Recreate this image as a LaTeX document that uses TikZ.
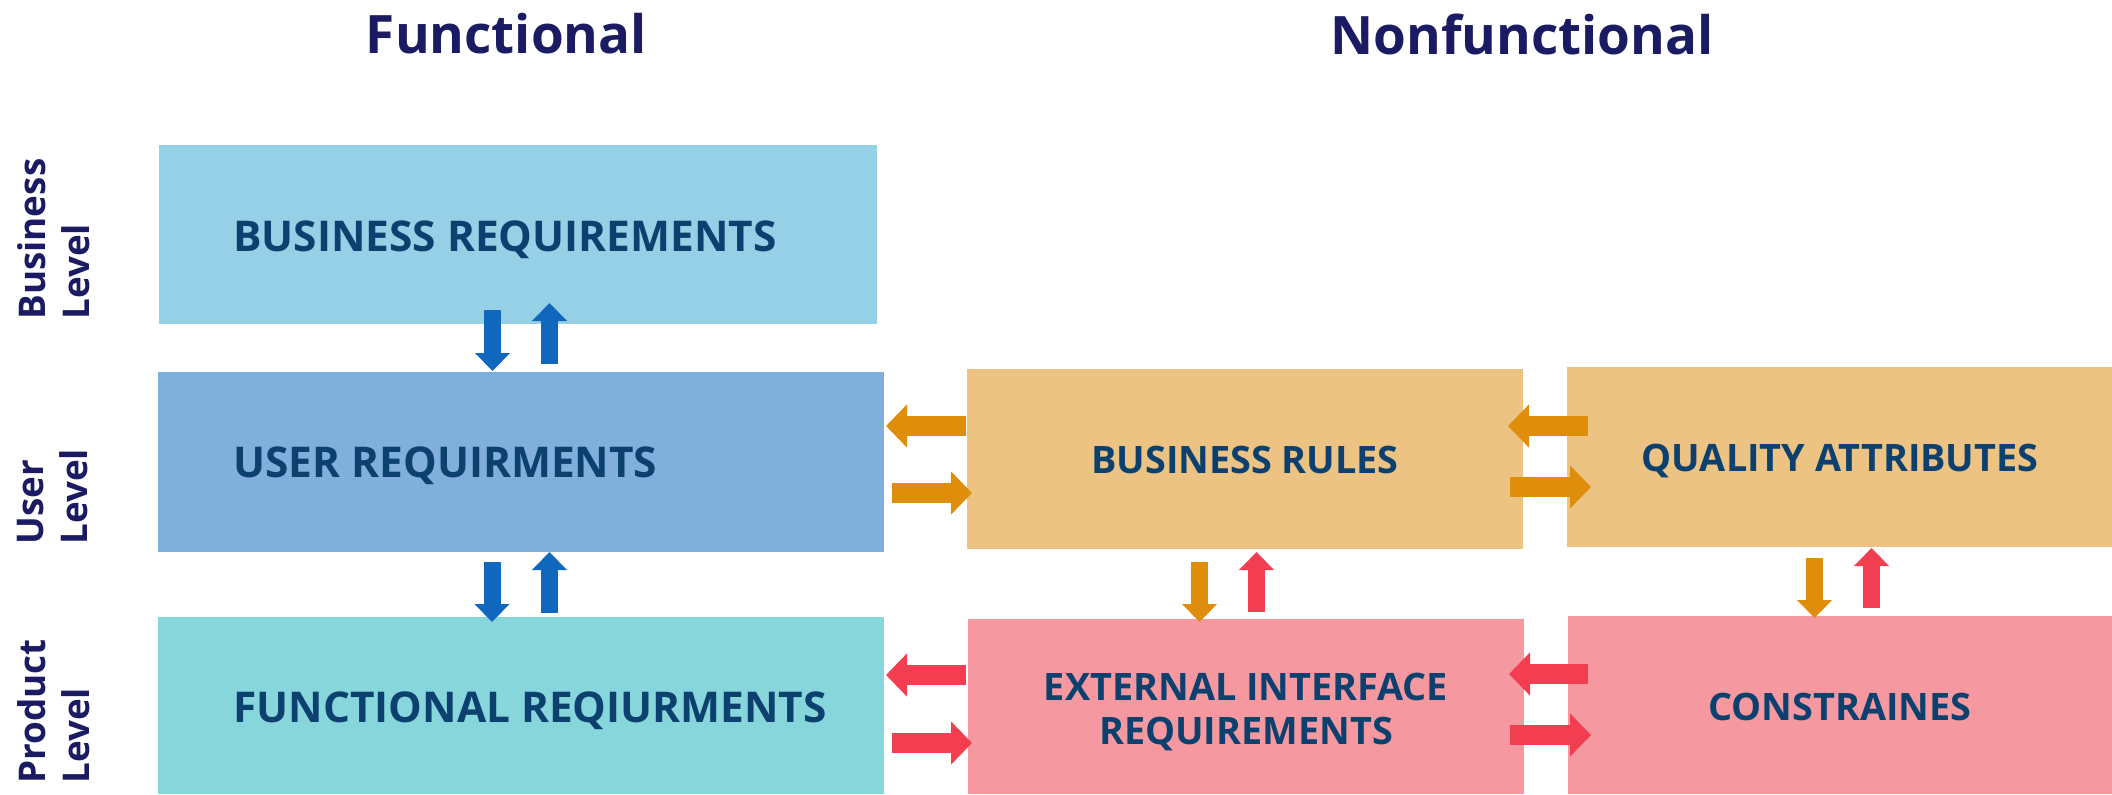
\documentclass[tikz,border=0pt]{standalone}
\usepackage{fontspec}
\setmainfont{Open Sans}
\usetikzlibrary{arrows.meta,calc}
\definecolor{boxBR}{HTML}{96D0E6}
\definecolor{boxUR}{HTML}{80AFDB}
\definecolor{boxFR}{HTML}{87D6DB}
\definecolor{boxOr}{HTML}{ECC383}
\definecolor{boxPk}{HTML}{F6989F}
\definecolor{arrBlue}{HTML}{1068BE}
\definecolor{arrOr}{HTML}{DE8E0B}
\definecolor{arrRed}{HTML}{F33D51}
\definecolor{txtC}{HTML}{0C416F}
\definecolor{titleC}{HTML}{1B1B63}
\begin{document}
\begin{tikzpicture}[x=0.5pt,y=-0.5pt,
  box/.style={inner sep=0pt, outer sep=0pt, draw=none},
  lbl/.style={font=\fontsize{21.2}{26}\selectfont\bfseries, text=txtC, inner sep=0pt},
  rlbl/.style={font=\fontsize{18.9}{22}\selectfont\bfseries, text=txtC, inner sep=0pt, align=center},
  ttl/.style={font=\fontsize{26.5}{30}\selectfont\bfseries, text=titleC, inner sep=0pt},
  side/.style={font=\fontsize{18.4}{22}\selectfont\bfseries, text=titleC, inner sep=0pt, align=left, rotate=90, anchor=north west},
  varr/.style={line width=8.5pt, -{Triangle[width=17pt,length=9pt]}},
  harr/.style={line width=10pt, -{Triangle[width=21pt,length=10.5pt]}}]
\useasboundingbox (0,0) rectangle (2112,794);

% titles
\node[ttl, anchor=base] (tf) at (506.5,53) {Functional};
\node[ttl, anchor=base] (tn) at (1522,54) {Nonfunctional};

% side labels
\node[side] (lb) at (17,320) {Business\\Level};
\node[side] (lu) at (17,545) {User\\Level};
\node[side] (lp) at (17,784) {Product\\Level};

% boxes
\node[box, fill=boxBR, minimum width=359pt, minimum height=89.5pt] (br) at (518,234.5) {};
\node[box, fill=boxUR, minimum width=363pt, minimum height=90pt] (ur) at (521,462) {};
\node[box, fill=boxFR, minimum width=363pt, minimum height=88.5pt] (fr) at (521,705.5) {};
\node[box, fill=boxOr, minimum width=278pt, minimum height=90pt] (bru) at (1245,459) {};
\node[box, fill=boxOr, minimum width=272.5pt, minimum height=90pt] (qa) at (1839.5,457) {};
\node[box, fill=boxPk, minimum width=278pt, minimum height=87.5pt] (eir) at (1246,706.5) {};
\node[box, fill=boxPk, minimum width=272pt, minimum height=89pt] (con) at (1840,705) {};

% box texts
\node[lbl, anchor=base west] (brt) at (233,251) {BUSINESS REQUIREMENTS};
\node[lbl, anchor=base west] (urt) at (233,477) {USER REQUIRMENTS};
\node[lbl, anchor=base west] (frt) at (233,722) {FUNCTIONAL REQIURMENTS};
\node[rlbl, anchor=base] (brut) at (1245,473) {BUSINESS RULES};
\node[rlbl, anchor=base] (qat) at (1840,471) {QUALITY ATTRIBUTES};
\node[rlbl, anchor=north] (eirt) at (1246,673) {EXTERNAL INTERFACE\\REQUIREMENTS};
\node[rlbl, anchor=base] (cont) at (1840,720) {CONSTRAINES};

% vertical arrows, functional column
\draw[varr, arrBlue] ($(br.south)+(-25.5,-14)$) -- ($(ur.north)+(-28.5,-1)$);
\draw[varr, arrBlue] ($(ur.north)+(28.5,-8)$) -- ($(br.south)+(31.5,-21)$);
\draw[varr, arrBlue] ($(ur.south)+(-29,10)$) -- ($(fr.north)+(-29,5)$);
\draw[varr, arrBlue] ($(fr.north)+(28.5,-4)$) -- ($(ur.south)+(28.5,0)$);

% vertical arrows, nonfunctional columns
\draw[varr, arrOr] ($(bru.south)+(-45.5,13)$) -- ($(eir.north)+(-46.5,3)$);
\draw[varr, arrRed] ($(eir.north)+(10.5,-7)$) -- ($(bru.south)+(11.5,3)$);
\draw[varr, arrOr] ($(qa.south)+(-25,11)$) -- ($(con.north)+(-25.5,2)$);
\draw[varr, arrRed] ($(con.north)+(31.5,-8)$) -- ($(qa.south)+(32,1)$);

% horizontal arrows, user level
\draw[harr, arrOr] ($(bru.west)+(-1,-33)$) -- ($(ur.east)+(2,-36)$);
\draw[harr, arrOr] ($(ur.east)+(8,31)$) -- ($(bru.west)+(5,34)$);
\draw[harr, arrOr] ($(qa.west)+(21,-31)$) -- ($(bru.east)+(-15,-33)$);
\draw[harr, arrOr] ($(bru.east)+(-13,28)$) -- ($(qa.west)+(24,30)$);

% horizontal arrows, product level
\draw[harr, arrRed] ($(eir.west)+(-2,-31.5)$) -- ($(fr.east)+(2,-30.5)$);
\draw[harr, arrRed] ($(fr.east)+(8,37.5)$) -- ($(eir.west)+(4,36.5)$);
\draw[harr, arrRed] ($(con.west)+(20,-31)$) -- ($(eir.east)+(-15,-32.5)$);
\draw[harr, arrRed] ($(eir.east)+(-14,28.5)$) -- ($(con.west)+(23,30)$);
\end{tikzpicture}
\end{document}
